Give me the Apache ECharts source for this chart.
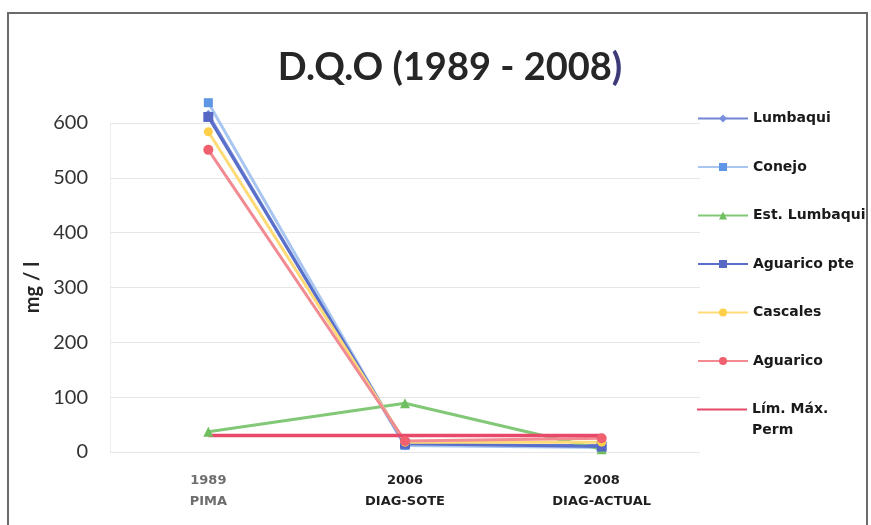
<!DOCTYPE html>
<html>
<head>
<meta charset="utf-8">
<script src="https://cdn.jsdelivr.net/npm/echarts@6/dist/echarts.min.js"></script>
<style>
  html, body { margin: 0; padding: 0; background: #fff; }
  #chart { width: 871px; height: 525px; }
</style>
</head>
<body>
<div id="chart"></div>
<script>
// Sampling campaigns (year + study)
const categories = ['1989\nPIMA', '2006\nDIAG-SOTE', '2008\nDIAG-ACTUAL'];

// D.Q.O values, mg/l
const lumbaqui    = [615, 12, 12];
const conejo      = [637, 12, 8];
const estLumbaqui = [37, 89, 5];
const aguaricoPte = [611, 15, 10];
const cascales    = [584, 18, 18];
const aguarico    = [551, 20, 25];
const limMaxPerm  = [30, 30, 30];

const LIM_NAME = 'Lím. Máx.\nPerm';
const yTicks = { min: 0, max: 600, interval: 100 };

const chart = echarts.init(document.getElementById('chart'));

function lineSeries(name, data, color, lineColor, symbol, size, width) {
  return {
    name: name,
    type: 'line',
    data: data,
    clip: false,
    symbol: symbol,
    symbolSize: size,
    showSymbol: symbol !== 'none',
    itemStyle: { color: color },
    lineStyle: { color: lineColor, width: width },
    emphasis: { disabled: true }
  };
}

const legendText = {
  fontFamily: 'DejaVu Sans',
  fontWeight: 'bold',
  fontSize: 14,
  color: '#1a1a1a',
  lineHeight: 21
};

chart.setOption({
  animation: false,
  backgroundColor: '#ffffff',
  title: {
    text: 'D.Q.O (1989 - 2008{p|)}',
    left: 445,
    top: 44,
    textAlign: 'center',
    textStyle: {
      fontFamily: 'Lato',
      fontWeight: 'bold',
      fontSize: 38,
      color: '#262626',
      rich: {
        p: { fontFamily: 'Lato', fontWeight: 'bold', fontSize: 38, color: '#3d3a78' }
      }
    }
  },
  graphic: [{
    type: 'rect',
    shape: { x: 8, y: 13, width: 859, height: 530 },
    style: { fill: 'none', stroke: '#6a6a6a', lineWidth: 2 },
    silent: true
  }],
  legend: [{
    orient: 'vertical',
    left: 692,
    top: 103,
    itemWidth: 50,
    itemHeight: 10,
    itemGap: 27.5,
    textStyle: legendText,
    data: ['Lumbaqui', 'Conejo', 'Est. Lumbaqui', 'Aguarico pte', 'Cascales', 'Aguarico']
  }, {
    // limit line key: first text line level with the key, "Perm" below it
    orient: 'vertical',
    left: 692,
    top: 373,
    itemWidth: 50,
    itemHeight: 10,
    textStyle: legendText,
    formatter: function (name) { return '\u00a0\n' + name; },
    data: [{
      name: LIM_NAME,
      icon: 'path://M0,0 L0,0 Z M0,4 L50,4 L50,6 L0,6 Z M0,10 L0,10 Z'
    }]
  }],
  grid: { left: 110, right: 171, top: 123, bottom: 73 },
  xAxis: {
    type: 'category',
    data: [
      { value: categories[0], textStyle: { color: '#6e6e6e' } },
      categories[1],
      categories[2]
    ],
    boundaryGap: true,
    axisLine: { show: false },
    axisTick: { show: false },
    axisLabel: {
      margin: 18,
      fontFamily: 'DejaVu Sans',
      fontWeight: 'bold',
      fontSize: 13,
      lineHeight: 21,
      color: '#1f1f1f'
    }
  },
  yAxis: {
    type: 'value',
    min: yTicks.min,
    max: yTicks.max,
    interval: yTicks.interval,
    name: 'mg / l',
    nameLocation: 'middle',
    nameGap: 62,
    nameRotate: 90,
    nameTextStyle: { fontFamily: 'Lato', fontWeight: 'bold', fontSize: 20, color: '#262626' },
    axisLine: { show: true, lineStyle: { color: '#eeeeee', width: 1 } },
    axisTick: { show: false },
    axisLabel: { margin: 22, fontFamily: 'Lato', fontSize: 20, color: '#333333' },
    splitLine: { lineStyle: { color: '#e6e6e6', width: 1 } }
  },
  series: [
    lineSeries('Lumbaqui', lumbaqui, '#7a8fdc', '#7186d4', 'diamond', 10, 3),
    lineSeries('Conejo', conejo, '#5f96e6', '#a9c6f0', 'rect', 9, 3),
    lineSeries('Est. Lumbaqui', estLumbaqui, '#6fbf60', '#82c877', 'triangle', 10, 3),
    lineSeries('Aguarico pte', aguaricoPte, '#5667c4', '#5a6fca', 'rect', 10, 3),
    lineSeries('Cascales', cascales, '#ffcf4a', '#ffdb78', 'circle', 9, 3),
    lineSeries('Aguarico', aguarico, '#f0606e', '#f28a92', 'circle', 10, 3),
    lineSeries(LIM_NAME, limMaxPerm, '#e8486a', '#e8486a', 'none', 0, 3.5)
  ]
});
</script>
</body>
</html>
